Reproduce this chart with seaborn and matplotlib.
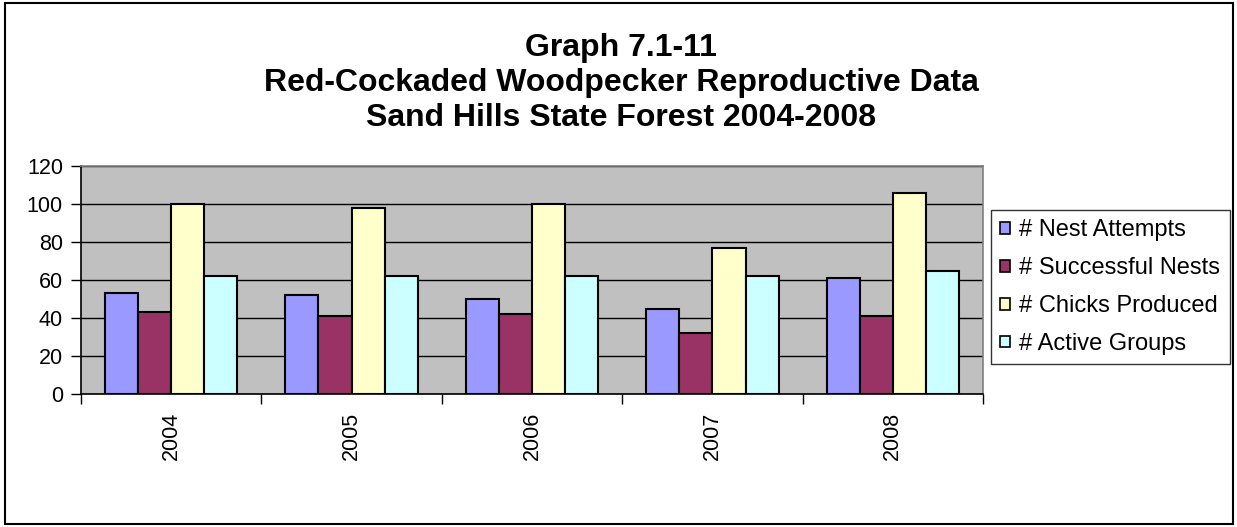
import matplotlib
matplotlib.use("Agg")
import matplotlib.pyplot as plt
import seaborn as sns
import pandas as pd
from matplotlib.patches import Rectangle

years = ["2004", "2005", "2006", "2007", "2008"]
nest_attempts = [53, 52, 50, 45, 61]
successful_nests = [43, 41, 42, 32, 41]
chicks_produced = [100, 98, 100, 77, 106]
active_groups = [62, 62, 62, 62, 65]
series_names = ["# Nest Attempts", "# Successful Nests", "# Chicks Produced", "# Active Groups"]
series_colors = ["#9999FF", "#993366", "#FFFFCC", "#CCFFFF"]
title_lines = ["Graph 7.1-11",
               "Red-Cockaded Woodpecker Reproductive Data",
               "Sand Hills State Forest 2004-2008"]

series_values = [nest_attempts, successful_nests, chicks_produced, active_groups]
records = []
for name, values in zip(series_names, series_values):
    for year, v in zip(years, values):
        records.append({"Year": year, "Series": name, "Value": v})
df = pd.DataFrame(records)

sns.set_theme(style="white")
plt.rcParams["font.family"] = ["Liberation Sans", "DejaVu Sans"]
plt.rcParams["text.color"] = "black"
plt.rcParams["xtick.color"] = "black"
plt.rcParams["ytick.color"] = "black"
plt.rcParams["xtick.labelcolor"] = "black"
plt.rcParams["ytick.labelcolor"] = "black"

W, H = 1237, 527
fig = plt.figure(figsize=(W / 100, H / 100), dpi=100)
fig.patch.set_facecolor("white")

# outer chart border
fig.patches.append(Rectangle((5 / W, 3 / H), (1233 - 5) / W, (524 - 3) / H,
                             transform=fig.transFigure, fill=False,
                             edgecolor="black", linewidth=1.5))

ax = fig.add_axes([81 / W, 1 - 394 / H, (983 - 81) / W, (394 - 166) / H])
sns.barplot(data=df, x="Year", y="Value", hue="Series", order=years,
            hue_order=series_names, palette=series_colors, saturation=1,
            width=0.734, edgecolor="black", linewidth=1.5, errorbar=None,
            ax=ax, zorder=3)

ax.set_facecolor("#C0C0C0")
ax.set_xlim(-0.5, len(years) - 0.5)
ax.set_ylim(0, 120)
ax.set_yticks(range(0, 121, 20))
ax.yaxis.grid(True, color="black", linewidth=1)
ax.xaxis.grid(False)
ax.set_axisbelow(True)
ax.set_xlabel("")
ax.set_ylabel("")

ax.set_xticks(range(len(years)))
ax.set_xticklabels(years, rotation=90, fontsize=15.5, color="black")
ax.set_xticks([i - 0.5 for i in range(len(years) + 1)], minor=True)
ax.tick_params(axis="x", which="major", length=0, pad=13)
ax.tick_params(axis="x", which="minor", length=7, width=1, color="black", direction="out", bottom=True)
ax.tick_params(axis="y", which="major", length=7, width=1, color="black", pad=6,
               labelsize=15.5, labelcolor="black", direction="out", left=True)

for side in ["left", "bottom"]:
    ax.spines[side].set_color("black")
    ax.spines[side].set_linewidth(1.2)
for side in ["top", "right"]:
    ax.spines[side].set_color("#808080")
    ax.spines[side].set_linewidth(1.2)

ax.legend_.remove()
handles = [Rectangle((0, 0), 1, 1, facecolor=c, edgecolor="black", linewidth=1.2)
           for c in series_colors]
leg = fig.legend(handles, series_names, loc="upper left",
                 bbox_to_anchor=(991 / W, 1 - 210 / H), borderaxespad=0,
                 fontsize=17, frameon=True, fancybox=False, shadow=False,
                 handlelength=0.4, handleheight=0.4, handletextpad=0.4,
                 labelspacing=0.67, borderpad=0.4, labelcolor="black")
leg.get_frame().set_edgecolor("black")
leg.get_frame().set_linewidth(1.0)

for line, y in zip(title_lines, [48, 83, 118]):
    fig.text(0.502, 1 - y / H, line, ha="center", va="center",
             fontsize=23, fontweight="bold", color="black")

fig.savefig("out.png", dpi=100)
